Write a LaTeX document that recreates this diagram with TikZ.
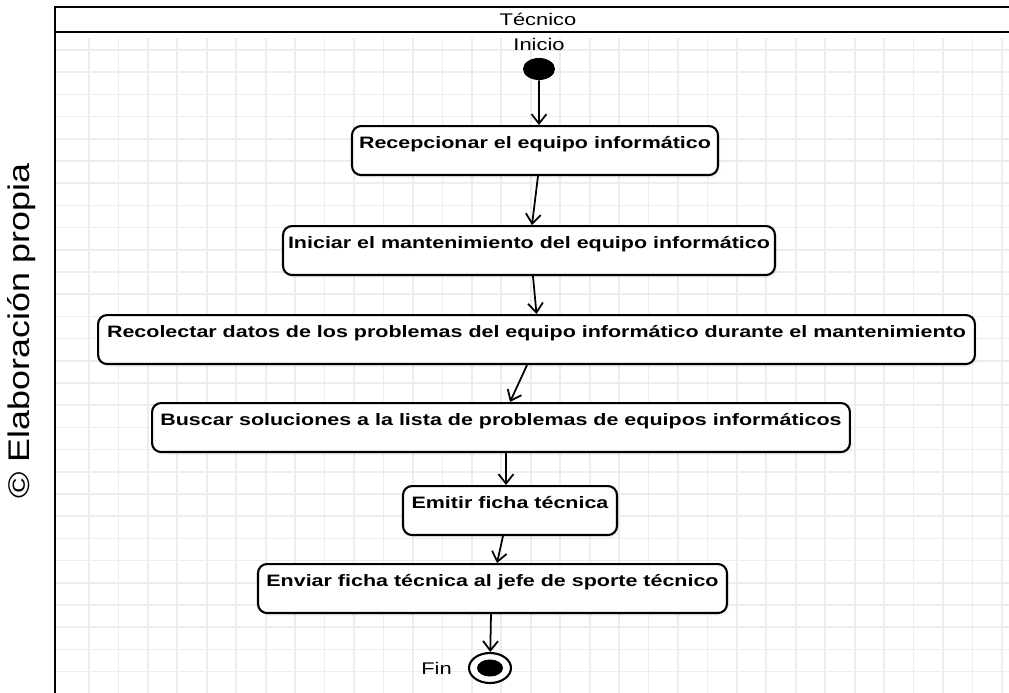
\documentclass[tikz,border=0pt]{standalone}
\usepackage{fontspec}
\setmainfont{Liberation Sans}[FakeStretch=1.3]
\newfontfamily\notefont{Liberation Sans}[FakeStretch=1.2]
\usetikzlibrary{arrows.meta,positioning,shapes.geometric,shadows}

\begin{document}
\begin{tikzpicture}[x=0.02cm,y=-0.02cm,>={Straight Barb[length=1.9mm,width=3mm]},
  font=\fontsize{9.6}{11}\selectfont,
  act/.style={draw,line width=1.2pt,rounded corners=0.18cm,fill=white,anchor=north,
    font=\fontsize{9.4}{11}\selectfont\bfseries,inner xsep=0pt,inner ysep=0pt,
    text height=0.44cm,text depth=0.54cm,
    drop shadow={shadow xshift=0.05cm,shadow yshift=-0.06cm,opacity=0.08}},
  flow/.style={->,line width=1pt},
  gridline/.style={black!7,line width=1pt}]
\useasboundingbox (0,0) rectangle (1009,693);
% background grid
\foreach \gx in {0,...,31}
  \draw[gridline] (89+29.45*\gx,38) -- (89+29.45*\gx,693);
\foreach \gy in {0,...,28}
  \draw[gridline] (55,50+22.2*\gy) -- (1009,50+22.2*\gy);
% lane
\draw[line width=1pt] (1009,7) -- (55,7) -- (55,693);
\draw[line width=1.5pt] (55,32) -- (1009,32);
\node (lane) at (538,19) {Técnico};
\node[rotate=90,font=\notefont\fontsize{17}{20}\selectfont] (note) at (22,331) {© Elaboración propia};
% start / end
\node[ellipse,fill=black,minimum width=0.64cm,minimum height=0.44cm,inner sep=0pt] (start) at (539,69) {};
\node[above=0.02cm of start] (inicio) {Inicio};
\node[ellipse,draw,line width=1.2pt,fill=white,minimum width=0.84cm,minimum height=0.6cm,inner sep=0pt] (fin) at (490,668) {};
\node[ellipse,fill=black,minimum width=0.52cm,minimum height=0.34cm,inner sep=0pt] (finin) at (fin.center) {};
\node[left=0.2cm of fin] (fintext) {Fin};
% activities
\node[act,minimum width=7.32cm] (recep) at (535,125) {Recepcionar el equipo informático};
\node[act,minimum width=9.84cm] (inic) at (529,225) {Iniciar el mantenimiento del equipo informático};
\node[act,minimum width=17.54cm] (recol) at (536.5,314) {Recolectar datos de los problemas del equipo informático durante el mantenimiento};
\node[act,minimum width=13.96cm] (busc) at (501,402) {Buscar soluciones a la lista de problemas de equipos informáticos};
\node[act,minimum width=4.28cm] (emit) at (510,485) {Emitir ficha técnica};
\node[act,minimum width=9.38cm] (envi) at (492.5,563) {Enviar ficha técnica al jefe de sporte técnico};
% flows
\draw[flow] (start) -- ([xshift=0.08cm]recep.north);
\draw[flow] ([xshift=0.06cm]recep.south) -- ([xshift=0.06cm]inic.north);
\draw[flow] ([xshift=0.08cm]inic.south) -- (recol.north);
\draw[flow] ([xshift=-0.19cm]recol.south) -- ([xshift=0.18cm]busc.north);
\draw[flow] ([xshift=0.1cm]busc.south) -- ([xshift=-0.08cm]emit.north);
\draw[flow] ([xshift=-0.14cm]emit.south) -- ([xshift=0.09cm]envi.north);
\draw[flow] ([xshift=-0.03cm]envi.south) -- (fin);
\end{tikzpicture}
\end{document}
